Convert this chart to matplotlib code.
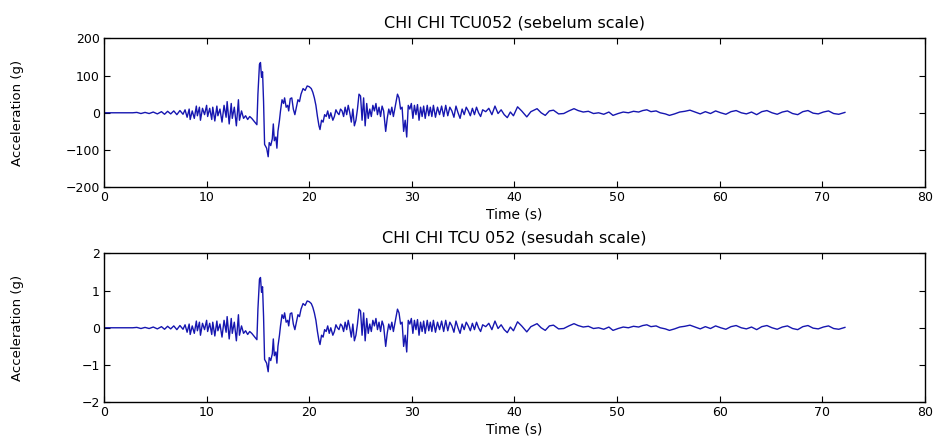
import matplotlib

matplotlib.use("Agg")
import matplotlib.pyplot as plt
import numpy as np

# Rekaman percepatan tanah Chi-Chi, stasiun TCU052 (nilai sebelum scale)
time_s = [
    0.0, 2.8, 3.2, 3.6, 4.0, 4.4, 4.8, 5.2, 5.6, 5.9, 6.2, 6.5, 6.8, 7.1, 7.4, 7.7, 7.9,
    8.1, 8.3, 8.4, 8.6, 8.8, 9.0, 9.1, 9.3, 9.4, 9.6, 9.8, 10.0, 10.1, 10.3, 10.5, 10.6,
    10.8, 11.0, 11.1, 11.3, 11.5, 11.7, 11.9, 12.0, 12.2, 12.4, 12.5, 12.7, 12.9, 13.1,
    13.2, 13.4, 13.6, 13.8, 14.0, 14.2, 14.4, 14.7, 14.9, 15.0, 15.15, 15.25, 15.35,
    15.45, 15.55, 15.65, 15.85, 16.0, 16.1, 16.25, 16.4, 16.5, 16.6, 16.75, 16.85,
    16.95, 17.1, 17.2, 17.35, 17.5, 17.6, 17.75, 17.9, 18.0, 18.15, 18.3, 18.45, 18.6,
    18.75, 18.9, 19.05, 19.2, 19.4, 19.6, 19.8, 20.0, 20.2, 20.35, 20.5, 20.65, 20.8,
    20.95, 21.05, 21.2, 21.35, 21.5, 21.65, 21.8, 21.95, 22.1, 22.3, 22.45, 22.6,
    22.75, 22.9, 23.05, 23.2, 23.35, 23.5, 23.65, 23.8, 23.95, 24.1, 24.25, 24.4,
    24.55, 24.7, 24.85, 25.0, 25.15, 25.3, 25.45, 25.6, 25.75, 25.9, 26.05, 26.2,
    26.35, 26.5, 26.65, 26.8, 26.95, 27.1, 27.25, 27.45, 27.6, 27.75, 27.9, 28.05,
    28.2, 28.4, 28.6, 28.75, 28.9, 29.05, 29.2, 29.35, 29.5, 29.65, 29.8, 29.95, 30.1,
    30.25, 30.4, 30.55, 30.7, 30.85, 31.0, 31.15, 31.3, 31.5, 31.65, 31.8, 31.95, 32.1,
    32.3, 32.5, 32.7, 32.9, 33.1, 33.3, 33.5, 33.7, 33.9, 34.1, 34.3, 34.5, 34.7, 34.9,
    35.1, 35.3, 35.5, 35.7, 35.9, 36.1, 36.3, 36.5, 36.7, 36.9, 37.2, 37.5, 37.8, 38.1,
    38.4, 38.7, 39.0, 39.3, 39.6, 39.9, 40.3, 40.7, 41.2, 41.6, 42.2, 42.6, 43.0, 43.4,
    43.8, 44.3, 44.8, 45.3, 45.8, 46.2, 46.7, 47.2, 47.7, 48.2, 48.7, 49.2, 49.6, 50.1,
    50.6, 51.1, 51.6, 52.1, 52.5, 52.9, 53.3, 53.8, 54.2, 54.7, 55.1, 55.6, 56.1, 56.6,
    57.1, 57.6, 58.1, 58.6, 59.1, 59.6, 60.1, 60.6, 61.1, 61.6, 62.1, 62.6, 63.1, 63.6,
    64.1, 64.6, 65.1, 65.6, 66.1, 66.6, 67.1, 67.6, 68.1, 68.6, 69.1, 69.6, 70.1, 70.6,
    71.1, 71.6, 72.2,
]
acc_raw = [
    0, 0, 1, -2, 1, -2, 2, -3, 3, -4, 4, -3, 5, -5, 6, -4, 8,
    -12, 10, -18, 5, -15, 18, -8, 15, -20, 12, -5, 20, -10, 12, -18, 15,
    -22, 18, -8, 10, -25, 20, -12, 30, -30, 25, -15, 15, -35, 35,
    -20, 5, -15, -8, -18, -10, -15, -25, -32, 50, 130, 135, 95,
    110, 30, -85, -95, -118, -80, -88, -70, -30, -75, -65, -95,
    -50, -20, 5, 35, 25, 40, 15, 20, 5, 38, 40, 10, -5,
    15, 35, 30, 50, 65, 60, 72, 70, 65, 55, 40, 20, -10,
    -35, -45, -20, -25, -5, -10, 5, -15, 0, -20, -10, 8,
    0, -5, 10, 5, -10, 15, -5, 20, 0, -25, 10, -35,
    -20, 10, 50, 45, -20, 40, -35, 25, -15, 10, -10, 20,
    5, 25, -5, 15, -10, 18, 5, -50, -15, 10, -5, 15,
    -10, 20, 50, 40, 10, 15, -50, -20, -65, 20, 10, 25, -15,
    20, -5, 22, -20, 15, -10, 18, -15, 20, -8, 15, -10, 20,
    -12, 15, -5, 18, -10, 20, -8, 15, 5, -12, 18, 0, -15, 10,
    -5, 15, 5, -8, 12, -5, 15, 0, -10, 8, 3, 12, -5, 18,
    -2, 8, -5, -13, 2, -8, 16, 5, -11, 3, 11, 0, -7, 5,
    7, -3, -2, 5, 11, 6, 2, 4, -2, 0, -4, 2, -7, -2,
    2, 0, 4, 2, 6, 8, 3, 5, 0, -3, -7, -3, 2, 4,
    7, 2, -3, 3, -2, 5, 0, -4, 3, 6, 0, -3, 2, -5,
    3, 6, 0, -4, 2, 5, -2, -5, 3, 6, -1, -3, 2, 5,
    -2, -4, 1,
]

# faktor skala yang dipakai untuk rekaman kedua
scale_factor = 0.01

t = np.array(time_s)
a_before = np.array(acc_raw, dtype=float)
a_after = a_before * scale_factor

panels = [
    (a_before, "CHI CHI TCU052 (sebelum scale)", [-200, 200], [-200, -100, 0, 100, 200]),
    (a_after, "CHI CHI TCU 052 (sesudah scale)", [-2, 2], [-2, -1, 0, 1, 2]),
]

plt.rcParams["font.family"] = "DejaVu Sans"

fig = plt.figure(figsize=(9.36, 4.41), dpi=100)
ax_top = fig.add_axes([0.1111, 0.5753, 0.8771, 0.3379])
ax_bot = fig.add_axes([0.1111, 0.0878, 0.8771, 0.3379])

for ax, (acc, title, ylim, yticks) in zip([ax_top, ax_bot], panels):
    ax.plot(t, acc, color="#1616b0", linewidth=1.0)
    ax.set_xlim(0, 80)
    ax.set_ylim(*ylim)
    ax.set_xticks(range(0, 81, 10))
    ax.set_yticks(yticks)
    ax.tick_params(direction="in", length=4, width=0.8, top=True, right=True,
                   labelsize=9, pad=3)
    for spine in ax.spines.values():
        spine.set_linewidth(1.0)
    ax.set_title(title, fontsize=11.5, pad=8)
    ax.set_xlabel("Time (s)", fontsize=10, labelpad=2)
    ax.set_ylabel("Acceleration (g)", fontsize=9.5)
    ax.yaxis.set_label_coords(-0.098, 0.5)

fig.savefig("out.png", dpi=100)
